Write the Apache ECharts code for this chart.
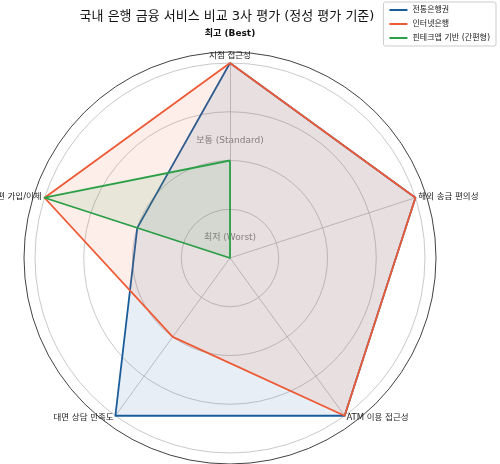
<!DOCTYPE html>
<html>
<head>
<meta charset="utf-8">
<script src="https://cdn.jsdelivr.net/npm/echarts@6/dist/echarts.min.js"></script>
<style>html,body{margin:0;padding:0;background:#fff}#chart{width:500px;height:464px}</style>
</head>
<body>
<div id="chart"></div>
<script>
// axes, counter-clockwise from the top
const indicators = ['지점 접근성', '간편 가입/이체', '대면 상담 만족도', 'ATM 이용 접근성', '해외 송금 편의성'];
const seriesNames = ['전통은행권', '인터넷은행', '핀테크앱 기반 (간편형)'];
const bankA = [4, 2, 4, 4, 4];
const bankB = [4, 4, 2, 4, 4];
const fintech = [2, 4, 0, 0, 0];
const colors = ['#1a5d9a', '#ee5a35', '#2ca048'];
const maxVal = 4;

const cx = 230, cy = 258, R = 195;
const chart = echarts.init(document.getElementById('chart'));
const font = 'DejaVu Sans, Noto Sans CJK KR, sans-serif';

chart.setOption({
    animation: false,
    title: {
        text: '국내 은행 금융 서비스 비교 3사 평가 (정성 평가 기준)',
        left: 222, top: 5, textAlign: 'center',
        textStyle: { fontSize: 13, fontWeight: 'normal', color: '#111', fontFamily: font }
    },
    legend: {
        data: seriesNames,
        orient: 'vertical', right: 4, top: 2,
        borderColor: '#ccc', borderWidth: 1, borderRadius: 2, padding: [4, 6],
        itemWidth: 18, itemHeight: 2, itemGap: 6, icon: 'rect',
        backgroundColor: 'rgba(255,255,255,0.85)',
        textStyle: { fontSize: 8, color: '#222', fontFamily: font }
    },
    radar: {
        center: [cx, cy], radius: R, shape: 'circle', splitNumber: 4, startAngle: 90,
        indicator: indicators.map(n => ({ name: n, min: 0, max: maxVal })),
        axisName: { color: '#222', fontSize: 8.5, fontFamily: font },
        nameGap: 3,
        axisLine: { lineStyle: { color: '#bbb', width: 0.8 } },
        splitLine: { lineStyle: { color: '#bbb', width: 0.8 } },
        splitArea: { show: false }
    },
    series: [{
        type: 'radar', symbol: 'none',
        data: [bankA, bankB, fintech].map((v, i) => ({
            name: seriesNames[i], value: v,
            lineStyle: { color: colors[i], width: 1.8 },
            itemStyle: { color: colors[i] },
            areaStyle: { color: colors[i], opacity: 0.1 }
        }))
    }],
    graphic: [
        { type: 'circle', shape: { cx: cx, cy: cy, r: R + 11 }, style: { fill: 'none', stroke: '#111', lineWidth: 0.8 }, silent: true },
        { type: 'text', x: cx, y: cy - 224, style: { text: '최고 (Best)', fill: '#111', align: 'center', verticalAlign: 'middle', font: 'bold 9px ' + font } },
        { type: 'text', x: cx, y: cy - 117, style: { text: '보통 (Standard)', fill: '#888', align: 'center', verticalAlign: 'middle', font: '9px ' + font } },
        { type: 'text', x: cx, y: cy - 20, style: { text: '최저 (Worst)', fill: '#888', align: 'center', verticalAlign: 'middle', font: '9px ' + font } }
    ]
});
</script>
</body>
</html>
